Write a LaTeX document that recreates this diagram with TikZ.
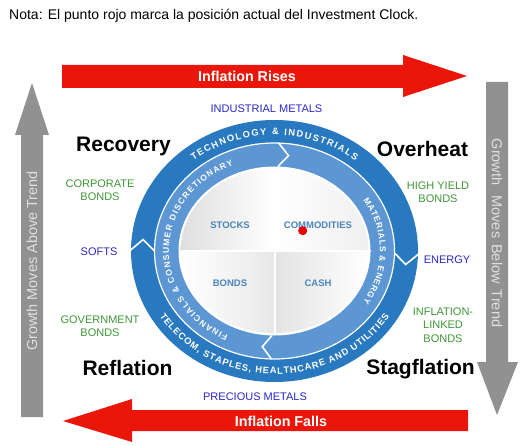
\documentclass[tikz,border=0pt]{standalone}
\usepackage{fontspec}
\setmainfont{Liberation Sans}
\usetikzlibrary{decorations.text}

\definecolor{arrowred}{RGB}{234,22,10}
\definecolor{trendgray}{RGB}{145,145,145}
\definecolor{ringdark}{RGB}{41,121,192}
\definecolor{ringlight}{RGB}{92,151,212}
\definecolor{assetblue}{RGB}{74,133,189}
\definecolor{labelgreen}{RGB}{62,150,52}
\definecolor{labelblue}{RGB}{40,40,200}
\definecolor{dotred}{RGB}{232,0,0}

\newcommand\ringfont{\fontsize{9.3}{9.3}\selectfont\bfseries}
\newcommand\innerringfont{\fontsize{8.5}{8.5}\selectfont\bfseries}

\tikzset{
  phase/.style={font=\fontsize{21}{21}\selectfont\bfseries, anchor=base},
  bondlabel/.style={font=\fontsize{11}{13.5}\selectfont, text=labelgreen, align=center},
  commlabel/.style={font=\fontsize{11}{13}\selectfont, text=labelblue},
  asset/.style={font=\fontsize{9.5}{10}\selectfont\bfseries, text=assetblue},
  arrowlabel/.style={font=\fontsize{14.3}{15}\selectfont\bfseries, text=white},
  trendlabel/.style={font=\fontsize{14.5}{15}\selectfont, text=white!88!black},
  chevron/.style={white, line width=1.6pt, line join=miter},
}

\begin{document}
\begin{tikzpicture}[x=1pt,y=1pt]
	\useasboundingbox (0,0) rectangle (532,445);
	\node[anchor=base west, inner sep=0, font=\fontsize{14}{16}\selectfont] (nota) at (9,425) {Nota: El punto rojo marca la posición actual del Investment Clock.};
	% inflation arrows
	\fill[arrowred] (62,380) -- (403,380) -- (403,390) -- (467,369) -- (403,348) -- (403,357) -- (62,357) -- cycle;
	\node[arrowlabel] (rises) at (247,369) {Inflation Rises};
	\fill[arrowred] (468,35) -- (132,35) -- (132,46) -- (63,24) -- (132,3) -- (132,14) -- (468,14) -- cycle;
	\node[arrowlabel] (falls) at (281,24) {Inflation Falls};
	% growth arrows
	\fill[trendgray] (21,28) -- (21,310) -- (15,310) -- (32,362) -- (49,310) -- (43,310) -- (43,28) -- cycle;
	\node[trendlabel, rotate=90] (above) at (32,184) {Growth Moves Above Trend};
	\fill[trendgray] (486,363) -- (486,83) -- (477,83) -- (497,30) -- (518,83) -- (508,83) -- (508,363) -- cycle;
	\node[trendlabel, rotate=-90] (below) at (497,212) {Growth\hspace{6pt} Moves\hspace{2pt} Below\hspace{2pt} Trend};
	% the clock
	\begin{scope}[shift={(274.5,194)}]
		\fill[ringdark] (0,0) ellipse[x radius=143.5, y radius=131];
		\fill[ringlight] (0,0) ellipse[x radius=120, y radius=108];
		\draw[white, line width=1.2pt] (0,0) ellipse[x radius=120, y radius=108];
		\fill[white] (0,0) ellipse[x radius=96, y radius=84.5];
		\begin{scope}
			\clip (0,0) ellipse[x radius=94, y radius=82];
			\shade[left color=gray!25, right color=white] (0,0) rectangle (-94,82);
			\shade[left color=white, right color=gray!12] (0,0) rectangle (94,82);
			\shade[left color=white, right color=gray!18] (0,0) rectangle (-94,-82);
			\shade[left color=gray!22, right color=white] (0,0) rectangle (94,-82);
		\end{scope}
		\draw[white, line width=2pt] (0,84) -- (0,-84);
		\draw[white, line width=2pt] (-96,0) -- (96,0);
		% chevrons
		\draw[chevron] (180:145 and 132) -- (174.5:132 and 119.5) -- (180:120 and 108);
		\draw[chevron] (-1:145 and 132) -- (-6.5:132 and 119.5) -- (-1:120 and 108);
		\draw[chevron] (88:120 and 108) -- (82.5:108 and 96.25) -- (88:96 and 84.5);
		\draw[chevron] (268.5:120 and 108) -- (263.5:108 and 96.25) -- (268.5:96 and 84.5);
		% sector texts
		\path[decorate, decoration={text along path, text align={fit to path},
			text={|\ringfont\color{white}|TECHNOLOGY {\&} INDUSTRIALS}}]
			(129:128.5 and 116) arc[start angle=129, end angle=51, x radius=128.5, y radius=116];
		\path[decorate, decoration={text along path, text align={fit to path},
			text={|\ringfont\color{white}|TELECOM{,} STAPLES{,} HEALTHCARE AND UTILITIES}}]
			(212:135.5 and 123) arc[start angle=212, end angle=328, x radius=135.5, y radius=123];
		\path[decorate, decoration={text along path, text align={fit to path},
			text={|\innerringfont\color{white}|FINANCIALS {\&} CONSUMER DISCRETIONARY}}]
			(244:105.5 and 93.5) arc[start angle=244, end angle=113, x radius=105.5, y radius=93.5];
		\path[decorate, decoration={text along path, text align={fit to path},
			text={|\innerringfont\color{white}|MATERIALS {\&} ENERGY}}]
			(33:105.5 and 93.5) arc[start angle=33, end angle=-33, x radius=105.5, y radius=93.5];
		% assets
		\node[asset] (stocks) at (-44.5,26) {STOCKS};
		\node[asset] (commodities) at (43.5,26) {COMMODITIES};
		\node[asset] (bonds) at (-44.5,-32) {BONDS};
		\node[asset] (cash) at (43.5,-32) {CASH};
		\node[circle, fill=dotred, inner sep=0, minimum size=9pt] (now) at (28.2,20.3) {};
	\end{scope}
	% phases
	\node[phase] (recovery) at (123.5,293) {Recovery};
	\node[phase] (overheat) at (422.5,288) {Overheat};
	\node[phase] (reflation) at (127.5,70) {Reflation};
	\node[phase] (stagflation) at (420.5,71) {Stagflation};
	% what to hold
	\node[commlabel] (indmetals) at (266.5,336) {INDUSTRIAL METALS};
	\node[commlabel] (precious) at (255,48) {PRECIOUS METALS};
	\node[bondlabel] (corporate) at (100,255) {CORPORATE\\BONDS};
	\node[commlabel] (softs) at (99,193) {SOFTS};
	\node[bondlabel] (government) at (100,119) {GOVERNMENT\\BONDS};
	\node[bondlabel] (highyield) at (438,253) {HIGH YIELD\\BONDS};
	\node[commlabel] (energy) at (447,185) {ENERGY};
	\node[bondlabel] (linkers) at (443,120) {INFLATION-\\LINKED\\BONDS};
\end{tikzpicture}
\end{document}
